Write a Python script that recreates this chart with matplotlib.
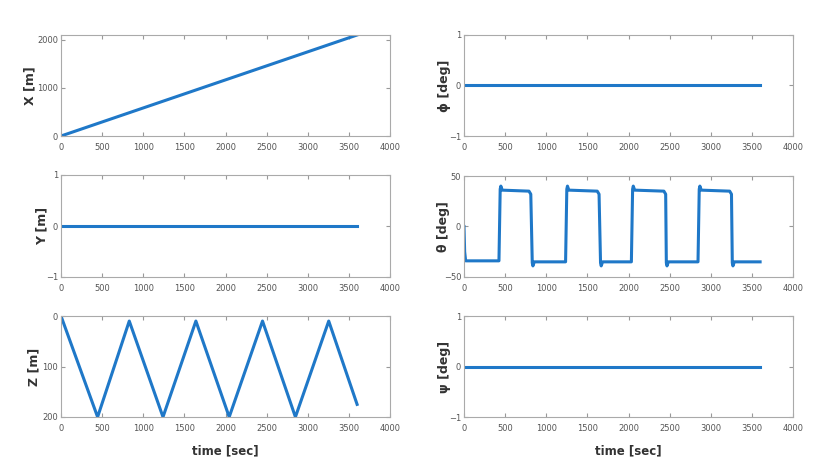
import numpy as np
import matplotlib
matplotlib.use("Agg")
import matplotlib.pyplot as plt

# time span of the run [sec]
t_span = [0, 3600]

# X grows linearly, Y stays at zero
x_t = [0, 3600]
x_val = [0, 2100]
y_t = [0, 3600]
y_val = [0, 0]

z_t = [0, 445, 830, 1240, 1640, 2045, 2450, 2850, 3255, 3600]
z_val = [0, 200, 10, 200, 10, 200, 10, 200, 10, 175]

# pitch angle, square wave with small overshoot at each switch
theta_t = [0, 8, 20, 425, 440, 448, 465, 790, 812, 830, 838, 855,
           1235, 1250, 1258, 1275, 1620, 1642, 1660, 1668, 1685,
           2035, 2050, 2058, 2075, 2430, 2452, 2460, 2468, 2485,
           2845, 2860, 2868, 2885, 3230, 3252, 3262, 3270, 3287, 3600]
theta_val = [0, -25, -34, -34, 37, 40, 36, 35, 32, -36, -39, -35,
             -35, 37, 40, 36, 35, 32, -36, -39, -35,
             -35, 37, 40, 36, 35, 32, -36, -39, -35,
             -35, 37, 40, 36, 35, 32, -36, -39, -35, -35]

phi_t = [0, 3600]
phi_val = [0, 0]
psi_t = [0, 3600]
psi_val = [0, 0]

xticks = [0, 500, 1000, 1500, 2000, 2500, 3000, 3500, 4000]

blue = "#1f78c8"
W, H = 826, 473

def box(px_left, px_top, px_right, px_bottom):
    return [px_left / W, 1 - px_bottom / H, (px_right - px_left) / W, (px_bottom - px_top) / H]

fig = plt.figure(figsize=(W / 100, H / 100), dpi=100)

panels = [
    # (t, values, rect, ylim, yticks, ylabel, label x in axes coords, xlabel)
    (x_t, x_val, box(61, 35, 390, 136), (0, 2100), [0, 1000, 2000], "X [m]", -0.095, None),
    (y_t, y_val, box(61, 175, 390, 277), (-1, 1), [-1, 0, 1], "Y [m]", -0.058, None),
    (z_t, z_val, box(61, 316, 390, 417), (200, 0), [0, 100, 200], "Z [m]", -0.082, "time [sec]"),
    (phi_t, phi_val, box(464, 35, 793, 136), (-1, 1), [-1, 0, 1], "ϕ [deg]", -0.058, None),
    (theta_t, theta_val, box(464, 176, 793, 277), (-50, 50), [-50, 0, 50], "θ [deg]", -0.062, None),
    (psi_t, psi_val, box(464, 316, 793, 417), (-1, 1), [-1, 0, 1], "ψ [deg]", -0.058, "time [sec]"),
]

for t, v, rect, ylim, yt, ylab, lx, xlab in panels:
    ax = fig.add_axes(rect)
    ax.plot(t, v, color=blue, lw=2.2)
    ax.set_xlim(0, 4000)
    ax.set_ylim(*ylim)
    ax.set_xticks(xticks)
    ax.set_yticks(yt)
    ax.tick_params(direction="in", top=True, right=True, length=3,
                   labelsize=6, labelcolor="#555555", color="#999999")
    ax.tick_params(axis="x", pad=5)
    ax.tick_params(axis="y", pad=2)
    for s in ax.spines.values():
        s.set_color("#aaaaaa")
        s.set_linewidth(0.8)
    ax.set_ylabel(ylab, fontsize=9, fontweight="bold", color="#333333", va="center")
    ax.yaxis.set_label_coords(lx, 0.5)
    if xlab:
        ax.set_xlabel(xlab, fontsize=8.5, fontweight="bold", color="#333333", labelpad=8)

fig.savefig("out.png", dpi=100)
